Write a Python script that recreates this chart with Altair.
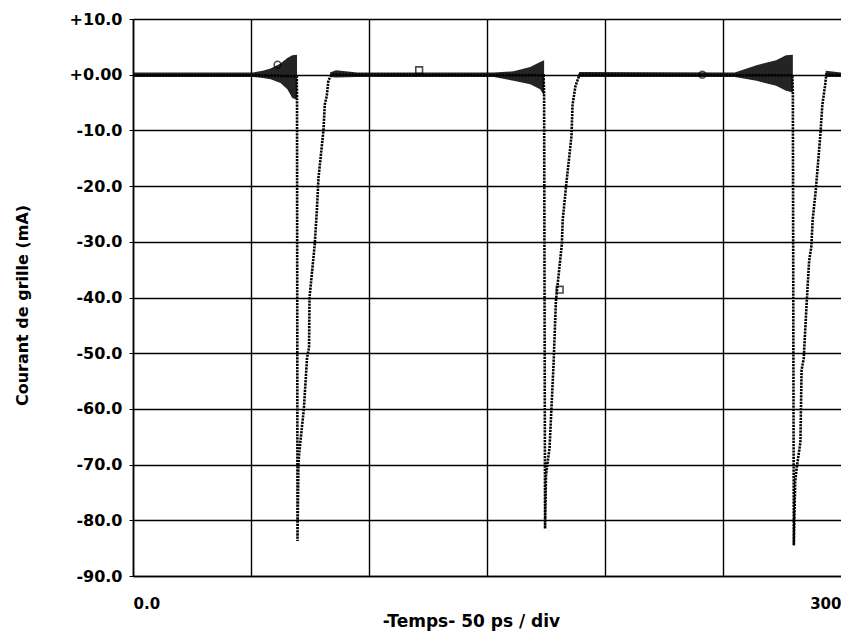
import altair as alt
import pandas as pd

# ---- trace (time in ps, grid current in mA) ----
trace_t = [0, 51, 69.4, 69.5, 69.7, 70.1, 70.4, 72.4, 73.75, 74.6, 74.8, 77.0, 77.9, 78.6,
           80.7, 81.25, 82.1, 82.8, 84.2,
           174.0, 174.2, 174.6, 175.0, 175.4, 176.5, 178.2, 179.2, 181.7, 182.1, 183.5,
           185.8, 186.25, 187.5, 189.2,
           279.4, 279.6, 280.0, 280.6, 281.25, 282.8, 283.3, 284.2, 285.5, 286.5, 287.4,
           288.0, 289.3, 291.25, 292.1, 293.3, 293.75, 300]
trace_i = [-0.1, -0.1, -0.3, -4.0, -83.7, -70, -68, -60, -50.8, -49, -40, -30.5, -24.4, -18.5,
           -10, -5.4, -3.8, -1, 0,
           -0.1, -3.8, -81.5, -72, -70.5, -67, -52, -40.6, -30.5, -26, -20,
           -11, -5.4, -2, 0,
           -0.1, -3.2, -84.5, -73, -70.5, -66, -53, -51, -40.6, -33.4, -31,
           -26, -20.8, -10.8, -5.4, -1.8, 0, -0.1]

# ---- noise / ringing envelope on the baseline ----
env_seg = [1, 1, 1, 1, 1, 1, 1, 1,
           2, 2, 2, 2, 2, 2, 2, 2,
           3, 3, 3, 3, 3, 3,
           4, 4]
env_t = [0, 50.8, 55, 58.3, 62.5, 65.4, 67.5, 69.5,
         83.5, 86, 95, 152.9, 161.25, 168.3, 172.5, 174.2,
         189, 255, 264.2, 272.5, 276.7, 279.6,
         293.5, 300]
env_hi = [0.4, 0.4, 0.7, 1.1, 2.0, 3.0, 3.5, 3.6,
          0.4, 0.8, 0.4, 0.4, 0.6, 1.4, 2.3, 2.6,
          0.5, 0.4, 1.7, 2.6, 3.5, 3.6,
          0.7, 0.4]
env_lo = [-0.4, -0.4, -0.6, -0.8, -1.5, -2.6, -4.2, -4.5,
          -0.4, -0.5, -0.4, -0.4, -1.1, -1.7, -2.6, -3.8,
          -0.4, -0.4, -1.1, -2.0, -2.9, -3.2,
          -0.4, -0.4]

# ---- cursor markers ----
mark_t = [61.25, 121.25, 180.8, 241.25]
mark_i = [1.8, 0.8, -38.6, 0.0]
mark_shape = ["circle", "square", "square", "circle"]

y_ticks = [10, 0, -10, -20, -30, -40, -50, -60, -70, -80, -90]
x_ticks = [0, 50, 100, 150, 200, 250, 300]

trace = pd.DataFrame({"t": trace_t, "i": trace_i, "k": list(range(len(trace_t)))})
env = pd.DataFrame({"seg": env_seg, "t": env_t, "hi": env_hi, "lo": env_lo})
marks = pd.DataFrame({"t": mark_t, "i": mark_i, "shape": mark_shape})

FONT = "DejaVu Sans"

xscale = alt.Scale(domain=[0, 300], nice=False, zero=False)
yscale = alt.Scale(domain=[-90, 10], nice=False, zero=False)

xaxis = alt.Axis(
    values=x_ticks,
    labelExpr="datum.value == 0 ? '0.0' : (datum.value == 300 ? '300' : '')",
    labelFlush=True, labelOverlap=False, tickSize=0, labelPadding=20,
    labelFont=FONT, labelFontSize=15, labelFontWeight="bold", labelColor="#000",
    grid=True, gridColor="#000", gridWidth=1.4,
    gridOpacity={"condition": {"test": "datum.value == 300", "value": 0}, "value": 1},
    domainColor="#000", domainWidth=1.6,
    title="-Temps- 50 ps  / div", titleFont=FONT, titleFontSize=17, titleFontWeight="bold",
    titleColor="#000", titleX=338, titleY=45, titleBaseline="middle", titleAlign="center",
)
yaxis = alt.Axis(
    values=y_ticks,
    labelExpr="datum.value > 0 ? '+' + datum.value + '.0' : (datum.value == 0 ? '+0.00' : datum.value + '.0')",
    labelFont=FONT, labelFontSize=16, labelFontWeight="bold", labelColor="#000",
    tickSize=4, tickColor="#000", labelPadding=7, labelOverlap=False,
    grid=True, gridColor="#000", gridWidth=1.4,
    domainColor="#000", domainWidth=1.6,
    title="Courant de grille (mA)", titleFont=FONT, titleFontSize=16, titleFontWeight="bold",
    titleColor="#000", titleX=-111, titleY=286, titleAlign="center", titleBaseline="middle",
)

band = alt.Chart(env).mark_area(color="#111", opacity=0.92, interpolate="linear").encode(
    x=alt.X("t:Q", scale=xscale, axis=xaxis),
    y=alt.Y("hi:Q", scale=yscale, axis=yaxis),
    y2="lo:Q",
    detail="seg:N",
)

line = alt.Chart(trace).mark_line(color="#000", strokeWidth=2.6, strokeDash=[2.2, 1.0]).encode(
    x=alt.X("t:Q", scale=xscale),
    y=alt.Y("i:Q", scale=yscale),
    order="k:Q",
)

pts = alt.Chart(marks).mark_point(color="#000", filled=False, strokeWidth=1.6, size=45).encode(
    x=alt.X("t:Q", scale=xscale),
    y=alt.Y("i:Q", scale=yscale),
    shape=alt.Shape("shape:N", scale=None, legend=None),
)

chart = alt.layer(band, line, pts).properties(
    width=708, height=557,
    padding={"left": 125, "top": 11, "right": 0, "bottom": 55},
    autosize=alt.AutoSizeParams(type="none"),
    background="#ffffff",
).configure_view(stroke=None)

chart.save("out.html", embed_options={"renderer": "svg", "actions": False})
